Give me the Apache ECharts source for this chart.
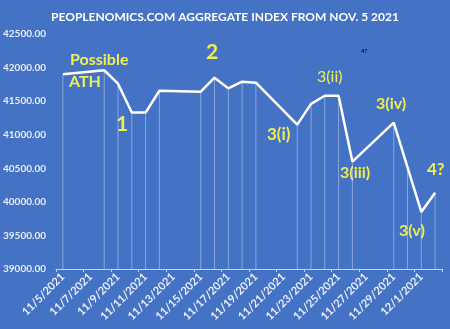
<!DOCTYPE html>
<html><head><meta charset="utf-8">
<script src="https://cdn.jsdelivr.net/npm/echarts@6/dist/echarts.min.js"></script>
<style>html,body{margin:0;padding:0;background:#4472C4;}#c{width:450px;height:329px;}</style>
</head><body><div id="c"></div>
<script>
const titleText = 'PEOPLENOMICS.COM AGGREGATE INDEX FROM NOV. 5 2021';
const dates = ['11/5/2021','11/6/2021','11/7/2021','11/8/2021','11/9/2021','11/10/2021','11/11/2021','11/12/2021','11/13/2021','11/14/2021','11/15/2021','11/16/2021','11/17/2021','11/18/2021','11/19/2021','11/20/2021','11/21/2021','11/22/2021','11/23/2021','11/24/2021','11/25/2021','11/26/2021','11/27/2021','11/28/2021','11/29/2021','11/30/2021','12/1/2021','12/2/2021'];
const indexValues = [41900,null,null,41960,41760,41330,41330,41655,null,null,41640,41850,41690,41790,41775,null,null,41150,41460,41580,41580,40600,null,null,41180,40515,39850,40135];
const yTicks = {min:39000, max:42500, step:500};
const annotations = [
  {text:'Possible', x:70, y:62, size:16},
  {text:'ATH', x:69, y:84, size:16},
  {text:'1', x:116, y:127, size:21},
  {text:'2', x:206, y:55, size:21},
  {text:'3(i)', x:267, y:137, size:17},
  {text:'3(ii)', x:317, y:79, size:16, weight:'normal'},
  {text:'3(iv)', x:376, y:106, size:16},
  {text:'3(iii)', x:340, y:175, size:16},
  {text:'4?', x:427, y:172, size:17},
  {text:'3(v)', x:399, y:233, size:16}
];
const smallNote = {text:'4?', x:361, y:52};

const chart = echarts.init(document.getElementById('c'), null, {renderer:'canvas'});
const FONT = 'Lato';
const yellow = '#eeee55';
const graphics = annotations.map(a => ({
  type:'text', left:a.x, top:a.y - a.size*0.62,
  style:{text:a.text, fill:yellow, font:(a.weight||'bold')+' '+a.size+'px '+FONT}
}));
graphics.push({type:'text', left:smallNote.x, top:smallNote.y-4, style:{text:smallNote.text, fill:'#111', font:'bold 6px '+FONT}});

chart.setOption({
  backgroundColor:'#4472C4',
  animation:false,
  title:{text:titleText, left:'center', top:6,
    textStyle:{color:'#ffffff', fontFamily:FONT, fontWeight:'bold', fontSize:12}},
  grid:{left:53, right:8, top:34, bottom:60, containLabel:false},
  xAxis:{type:'category', data:dates, boundaryGap:true,
    axisLine:{lineStyle:{color:'#c8d4ee', width:1}},
    axisTick:{show:true, interval:1, length:3, alignWithLabel:false, lineStyle:{color:'#c8d4ee'}},
    axisLabel:{interval:1, rotate:45, color:'#e8eefa', fontFamily:FONT, fontWeight:'bold', fontSize:11, margin:6}},
  yAxis:{type:'value', min:yTicks.min, max:yTicks.max, interval:yTicks.step,
    splitLine:{show:false}, axisLine:{show:false}, axisTick:{show:false},
    axisLabel:{formatter:v=>v.toFixed(2), color:'#e8eefa', fontFamily:FONT, fontWeight:'bold', fontSize:10, margin:10}},
  series:[
    {type:'bar', data:indexValues, barWidth:1, barGap:'-100%',
     itemStyle:{color:'rgba(255,255,255,0.38)'}, silent:true},
    {type:'line', data:indexValues, connectNulls:true, showSymbol:false, symbol:'none',
     lineStyle:{color:'#ffffff', width:2.5}, z:5}
  ],
  graphic:graphics
});
</script></body></html>
